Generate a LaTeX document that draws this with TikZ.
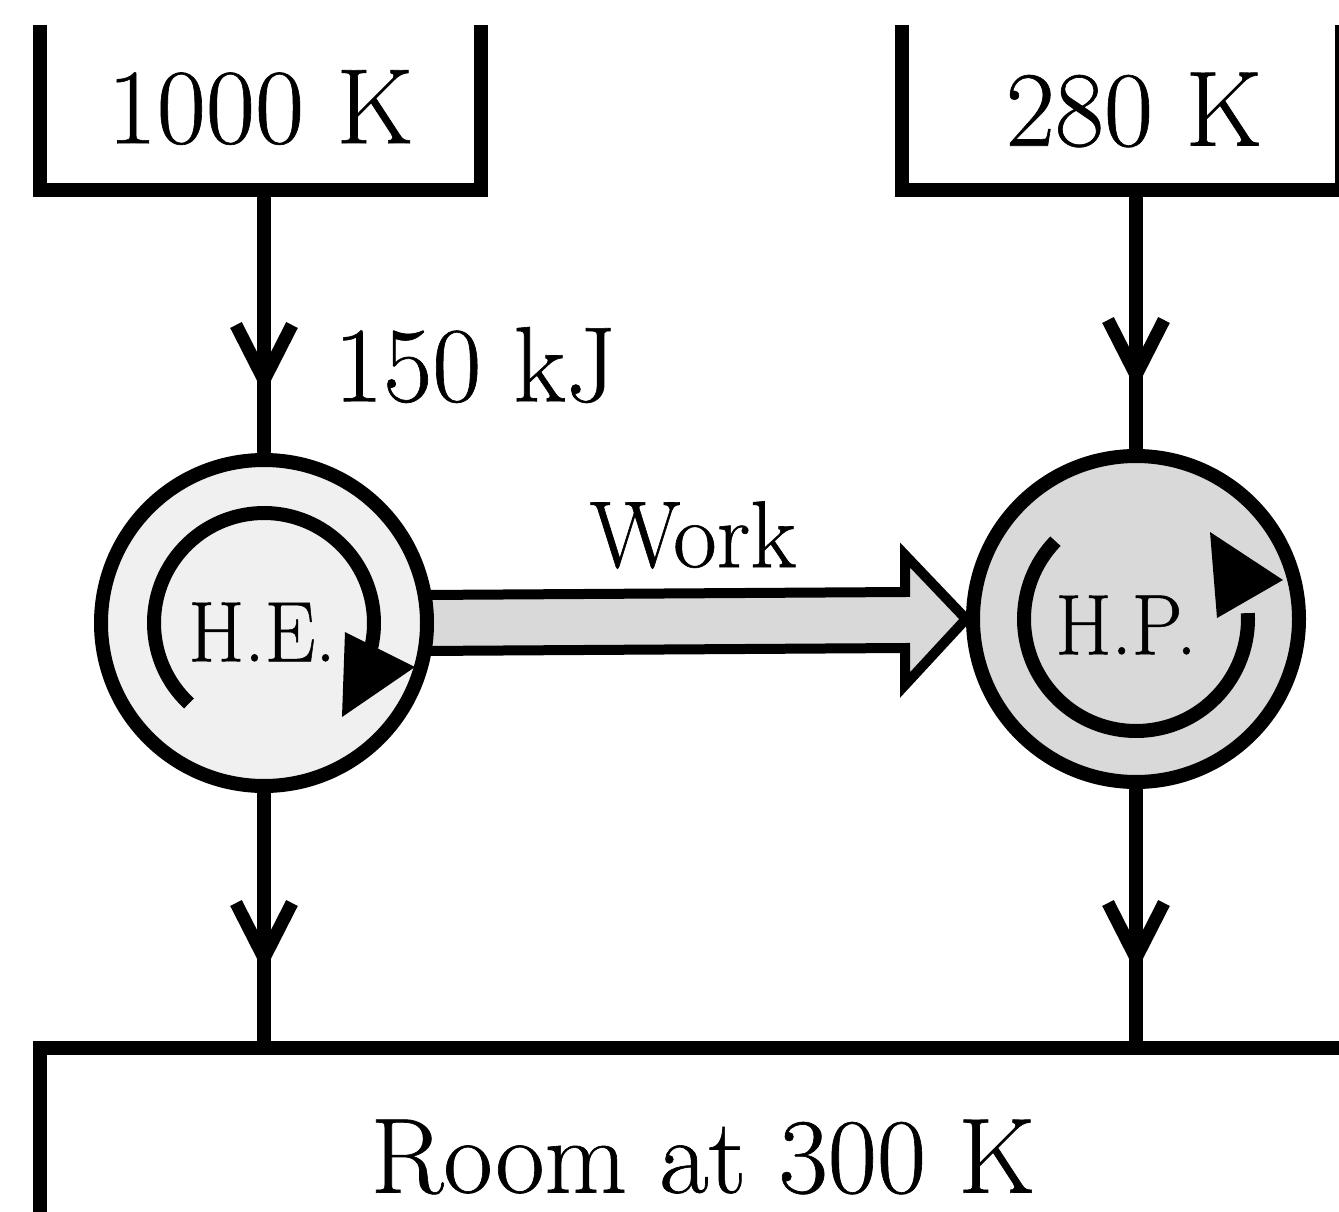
\documentclass[tikz,border=0pt]{standalone}
\usepackage{fontspec}
\setmainfont{Latin Modern Roman}[FakeBold=0.6]
\usetikzlibrary{decorations.markings,calc,backgrounds}
\definecolor{helight}{HTML}{F0F0F0}
\definecolor{hpgray}{HTML}{D9D9D9}
\tikzset{
  reservoir/.style={rectangle, inner sep=0pt, outer sep=0pt, font=\fontsize{107}{115}\selectfont},
  lbl/.style={inner sep=0pt, font=\fontsize{107}{115}\selectfont},
  cyclelbl/.style={inner sep=0pt, font=\fontsize{86}{90}\selectfont, xscale=0.94},
  wall/.style={line width=14pt, line join=miter},
  engine/.style={circle, draw, line width=14pt, minimum size=326pt, inner sep=0pt},
  cyclearc/.style={line width=14pt},
  conn/.style={line width=14pt},
  workarrow/.style={fill=hpgray, line width=10pt, line join=miter},
  chev/.style={postaction={decorate}, decoration={markings, mark=at position #1 with {\draw[line width=13pt, line join=round, line cap=butt] (-55pt,28pt) -- (0pt,0pt) -- (-55pt,-28pt);}}},
}
\begin{document}
\begin{tikzpicture}[x=1pt,y=1pt]
\useasboundingbox (0,0) rectangle (1339,-1212);
\clip (0,0) rectangle (1339,-1212);
% reservoirs
\node[reservoir, minimum width=441pt, minimum height=165pt] (hot) at (260.5,-107.5) {1000 K};
\draw[wall] (hot.north west) -- (hot.south west) -- (hot.south east) -- (hot.north east);
\node[reservoir, minimum width=440pt, minimum height=165pt] (cold) at (1122,-107.5) {};
\node[lbl] (coldtxt) at (1134,-110) {280 K};
\draw[wall] (cold.north west) -- (cold.south west) -- (cold.south east) -- (cold.north east);
\coordinate (roomtl) at (40,-1048);
\coordinate (roomtr) at (1366,-1048);
\coordinate (roombl) at (40,-1230);
\draw[wall] (roombl) -- (roomtl) -- (roomtr);
\node[lbl] (roomtxt) at (703,-1157) {Room at 300 K};
% engines
\node[engine, fill=helight] (HE) at (264,-623) {};
\node[engine, fill=hpgray] (HP) at (1136,-619) {};
% work arrow, behind the engines
\begin{pgfonlayer}{background}
\filldraw[workarrow]
  ($(HE.east)+(-12,28)$) -- (905,-592) -- (905,-555) -- (HP.west) -- (905,-685) -- (905,-648) -- ($(HE.east)+(-12,-28)$) -- cycle;
\end{pgfonlayer}
% cycle symbols
\draw[cyclearc] ([shift={(227:110)}]HE.center) arc[start angle=227, end angle=-15, radius=110];
\fill (345,-632) -- (415,-667) -- (342,-717) -- cycle;
\node[cyclelbl] (HEtxt) at (262,-632) {H.E.};
\draw[cyclearc] ([shift={(136:112)}]HP.center) arc[start angle=136, end angle=363, radius=112];
\fill (1210,-532) -- (1283,-580) -- (1217,-618) -- cycle;
\node[cyclelbl] (HPtxt) at (1126,-625) {H.P.};
% connectors
\draw[conn, chev=190pt] (hot.south -| HE.north) -- (HE.north);
\draw[conn, chev=165pt] (HE.south) -- (HE.south |- roomtl);
\draw[conn, chev=185pt] (cold.south -| HP.north) -- (HP.north);
\draw[conn, chev=169pt] (HP.south) -- (HP.south |- roomtl);
% labels
\node[lbl] (q1) at (475,-365) {150 kJ};
\node[lbl, font=\fontsize{95}{100}\selectfont] (work) at (693,-535) {Work};
\end{tikzpicture}
\end{document}
